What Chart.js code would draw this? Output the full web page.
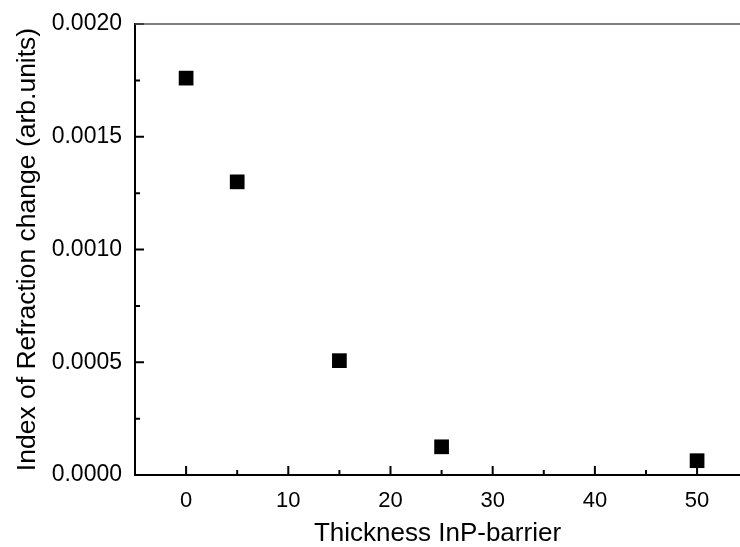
<!DOCTYPE html>
<html>
<head>
<meta charset="utf-8">
<script src="https://cdn.jsdelivr.net/npm/chart.js@4/dist/chart.umd.min.js"></script>
<style>
    body { margin: 0; background: #fff; }
    canvas { display: block; }
</style>
</head>
<body>
<canvas id="chart" width="740" height="547"></canvas>
<script>
// barrier thickness and index change
const thickness = [0, 5, 15, 25, 50];
const indexChange = [0.00176, 0.00130, 0.000507, 0.000125, 0.0000634];

const xTickValues = [0, 10, 20, 30, 40, 50];
const yTickValues = [0, 0.0005, 0.0010, 0.0015, 0.0020];

const font = "'Liberation Sans', Arial, sans-serif";

function midpoints(vals) {
    const out = [];
    for (let i = 1; i < vals.length; i++) {
        out.push((vals[i - 1] + vals[i]) / 2);
    }
    return out;
}

// ticks drawn inside the frame, plus the thin top line
const innerTicks = {
    id: 'innerTicks',
    beforeDatasetsDraw(chart) {
        const ctx = chart.ctx;
        const area = chart.chartArea;
        const x = chart.scales.x;
        const y = chart.scales.y;
        ctx.save();
        ctx.strokeStyle = '#000';
        ctx.lineWidth = 2;
        ctx.beginPath();
        xTickValues.forEach(v => {
            const px = x.getPixelForValue(v);
            ctx.moveTo(px, area.bottom);
            ctx.lineTo(px, area.bottom - 9);
        });
        midpoints(xTickValues).forEach(v => {
            const px = x.getPixelForValue(v);
            ctx.moveTo(px, area.bottom);
            ctx.lineTo(px, area.bottom - 5);
        });
        yTickValues.forEach(v => {
            const py = y.getPixelForValue(v);
            ctx.moveTo(area.left, py);
            ctx.lineTo(area.left + 9, py);
        });
        midpoints(yTickValues).forEach(v => {
            const py = y.getPixelForValue(v);
            ctx.moveTo(area.left, py);
            ctx.lineTo(area.left + 5, py);
        });
        ctx.stroke();

        ctx.strokeStyle = '#555';
        ctx.lineWidth = 1.5;
        ctx.beginPath();
        ctx.moveTo(area.left, area.top);
        ctx.lineTo(area.right, area.top);
        ctx.stroke();
        ctx.restore();
    }
};

new Chart(document.getElementById('chart').getContext('2d'), {
    type: 'scatter',
    data: {
        datasets: [{
            data: thickness.map((t, i) => ({x: t, y: indexChange[i]})),
            pointStyle: 'rect',
            pointRadius: 10.4,
            pointHoverRadius: 10.4,
            backgroundColor: '#000',
            borderColor: '#000',
            borderWidth: 0
        }]
    },
    options: {
        responsive: false,
        animation: false,
        layout: {autoPadding: false, padding: {top: 24, right: 0, left: 0, bottom: 0}},
        plugins: {
            legend: {display: false},
            tooltip: {enabled: false}
        },
        scales: {
            x: {
                type: 'linear',
                min: -5,
                max: 54.2,
                afterBuildTicks: s => { s.ticks = xTickValues.map(v => ({value: v})); },
                afterFit: s => {
                    s.height = 72;
                    s.paddingLeft = 0;
                    s.paddingRight = 0;
                },
                grid: {display: false},
                border: {display: true, color: '#000', width: 2},
                ticks: {
                    color: '#000',
                    padding: 5,
                    maxRotation: 0,
                    font: {family: font, size: 22}
                },
                title: {
                    display: true,
                    text: 'Thickness InP-barrier',
                    color: '#000',
                    padding: 0,
                    font: {family: font, size: 26, lineHeight: 1}
                }
            },
            y: {
                type: 'linear',
                min: 0,
                max: 0.002,
                afterBuildTicks: s => { s.ticks = yTickValues.map(v => ({value: v})); },
                afterFit: s => { s.width = 135; },
                grid: {display: false},
                border: {display: true, color: '#000', width: 2},
                ticks: {
                    color: '#000',
                    padding: 5,
                    font: {family: font, size: 23},
                    callback: v => Number(v).toFixed(4)
                },
                title: {
                    display: true,
                    text: 'Index of Refraction change (arb.units)',
                    color: '#000',
                    padding: {top: 14, bottom: 0},
                    font: {family: font, size: 26.5, lineHeight: 1}
                }
            }
        }
    },
    plugins: [innerTicks]
});
</script>
</body>
</html>
